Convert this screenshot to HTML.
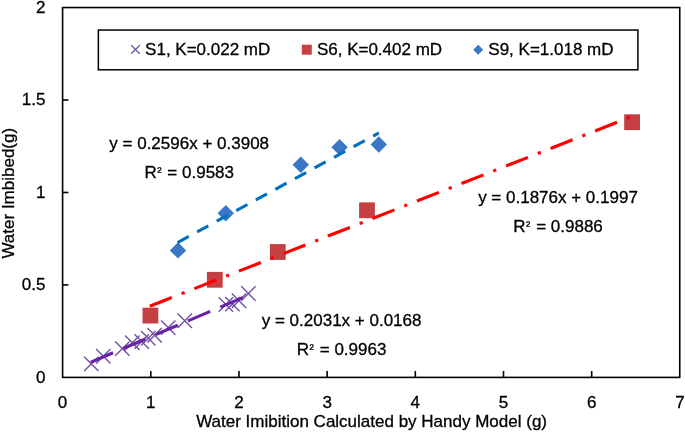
<!DOCTYPE html>
<html><head><meta charset="utf-8"><style>
html,body{margin:0;padding:0;background:#fff;width:685px;height:432px;overflow:hidden}
svg{display:block;filter:blur(0.35px)}
text{font-family:"Liberation Sans", sans-serif;font-size:17px;fill:#000}
.t{filter:grayscale(1)}
.t text{stroke:#000;stroke-width:0.3px}
</style></head><body>
<svg width="685" height="432" viewBox="0 0 685 432">
<rect x="62.6" y="7.55" width="617.15" height="369.85" fill="none" stroke="#000" stroke-width="1.6"/>
<line x1="150.78" y1="371" x2="150.78" y2="377.4" stroke="#000" stroke-width="1.6"/>
<line x1="238.96" y1="371" x2="238.96" y2="377.4" stroke="#000" stroke-width="1.6"/>
<line x1="327.14" y1="371" x2="327.14" y2="377.4" stroke="#000" stroke-width="1.6"/>
<line x1="415.32" y1="371" x2="415.32" y2="377.4" stroke="#000" stroke-width="1.6"/>
<line x1="503.50" y1="371" x2="503.50" y2="377.4" stroke="#000" stroke-width="1.6"/>
<line x1="591.68" y1="371" x2="591.68" y2="377.4" stroke="#000" stroke-width="1.6"/>
<line x1="62.6" y1="284.93" x2="68.4" y2="284.93" stroke="#000" stroke-width="1.6"/>
<line x1="62.6" y1="192.47" x2="68.4" y2="192.47" stroke="#000" stroke-width="1.6"/>
<line x1="62.6" y1="100.00" x2="68.4" y2="100.00" stroke="#000" stroke-width="1.6"/>
<rect x="98.35" y="30.05" width="539.55" height="39.75" fill="#fff" stroke="#000" stroke-width="1.5"/>
<path d="M131.20 45.20L139.80 53.80M131.20 53.80L139.80 45.20" stroke="#6E52A6" stroke-width="1.3" fill="none"/>
<rect x="301.80" y="44.70" width="10.00" height="10.00" fill="#C64043"/>
<path d="M478.20 44.70L483.20 49.70L478.20 54.70L473.20 49.70Z" fill="#3A77C6"/>
<path d="M84.10 356.70L98.50 371.10M84.10 371.10L98.50 356.70" stroke="#6E52A6" stroke-width="1.4" fill="none"/>
<path d="M96.10 349.00L110.50 363.40M96.10 363.40L110.50 349.00" stroke="#6E52A6" stroke-width="1.4" fill="none"/>
<path d="M115.20 341.40L129.60 355.80M115.20 355.80L129.60 341.40" stroke="#6E52A6" stroke-width="1.4" fill="none"/>
<path d="M125.10 335.50L139.50 349.90M125.10 349.90L139.50 335.50" stroke="#6E52A6" stroke-width="1.4" fill="none"/>
<path d="M134.50 334.30L148.90 348.70M134.50 348.70L148.90 334.30" stroke="#6E52A6" stroke-width="1.4" fill="none"/>
<path d="M141.10 331.10L155.50 345.50M141.10 345.50L155.50 331.10" stroke="#6E52A6" stroke-width="1.4" fill="none"/>
<path d="M147.40 328.00L161.80 342.40M147.40 342.40L161.80 328.00" stroke="#6E52A6" stroke-width="1.4" fill="none"/>
<path d="M161.00 320.40L175.40 334.80M161.00 334.80L175.40 320.40" stroke="#6E52A6" stroke-width="1.4" fill="none"/>
<path d="M177.60 313.50L192.00 327.90M177.60 327.90L192.00 313.50" stroke="#6E52A6" stroke-width="1.4" fill="none"/>
<path d="M218.70 297.30L233.10 311.70M218.70 311.70L233.10 297.30" stroke="#6E52A6" stroke-width="1.4" fill="none"/>
<path d="M225.20 296.90L239.60 311.30M225.20 311.30L239.60 296.90" stroke="#6E52A6" stroke-width="1.4" fill="none"/>
<path d="M231.80 293.60L246.20 308.00M231.80 308.00L246.20 293.60" stroke="#6E52A6" stroke-width="1.4" fill="none"/>
<path d="M241.20 286.30L255.60 300.70M241.20 300.70L255.60 286.30" stroke="#6E52A6" stroke-width="1.4" fill="none"/>
<rect x="142.50" y="307.70" width="15.80" height="15.80" fill="#C64043"/>
<rect x="206.90" y="271.90" width="15.80" height="15.80" fill="#C64043"/>
<rect x="269.90" y="244.10" width="15.80" height="15.80" fill="#C64043"/>
<rect x="359.10" y="202.40" width="15.80" height="15.80" fill="#C64043"/>
<rect x="624.20" y="114.30" width="15.80" height="15.80" fill="#C64043"/>
<path d="M178.00 242.20L186.20 250.40L178.00 258.60L169.80 250.40Z" fill="#3A77C6"/>
<path d="M225.80 205.10L234.00 213.30L225.80 221.50L217.60 213.30Z" fill="#3A77C6"/>
<path d="M300.80 156.60L309.00 164.80L300.80 173.00L292.60 164.80Z" fill="#3A77C6"/>
<path d="M339.60 139.00L347.80 147.20L339.60 155.40L331.40 147.20Z" fill="#3A77C6"/>
<path d="M378.80 136.30L387.00 144.50L378.80 152.70L370.60 144.50Z" fill="#3A77C6"/>
<line x1="90.80" y1="362.28" x2="248.40" y2="295.15" stroke="#6A22A8" stroke-width="3.1" stroke-dasharray="24.2 11"/>
<line x1="149.80" y1="306.16" x2="632.10" y2="116.41" stroke="#FF0000" stroke-width="3.15" stroke-dasharray="23.65 10.5 3.2 10.5"/>
<line x1="177.60" y1="242.52" x2="378.80" y2="132.98" stroke="#0070C0" stroke-width="3.1" stroke-dasharray="12.7 9.57"/>
<g class="t"><text x="62.60" y="408" text-anchor="middle">0</text>
<text x="150.78" y="408" text-anchor="middle">1</text>
<text x="238.96" y="408" text-anchor="middle">2</text>
<text x="327.14" y="408" text-anchor="middle">3</text>
<text x="415.32" y="408" text-anchor="middle">4</text>
<text x="503.50" y="408" text-anchor="middle">5</text>
<text x="591.68" y="408" text-anchor="middle">6</text>
<text x="679.86" y="408" text-anchor="middle">7</text>
<text x="45.5" y="382.60" text-anchor="end">0</text>
<text x="45.5" y="290.13" text-anchor="end">0.5</text>
<text x="45.5" y="197.67" text-anchor="end">1</text>
<text x="45.5" y="105.20" text-anchor="end">1.5</text>
<text x="45.5" y="12.74" text-anchor="end">2</text>
<text x="371.6" y="427" text-anchor="middle">Water Imibition Calculated by Handy Model (g)</text>
<text transform="translate(13.6,193.2) rotate(-90)" text-anchor="middle">Water Imbibed(g)</text>
<text x="145.1" y="55.3">S1, K=0.022 mD</text>
<text x="316.9" y="55.3">S6, K=0.402 mD</text>
<text x="488.3" y="55.3">S9, K=1.018 mD</text>
<text x="189.2" y="148.8" text-anchor="middle">y = 0.2596x + 0.3908</text>
<text x="189.2" y="178.20000000000002" text-anchor="middle">R<tspan style="font-size:13px" dy="-2.6" dx="0.5">²</tspan><tspan dy="2.6" dx="1.1"> = 0.9583</tspan></text>
<text x="558" y="202.8" text-anchor="middle">y = 0.1876x + 0.1997</text>
<text x="558" y="232.20000000000002" text-anchor="middle">R<tspan style="font-size:13px" dy="-2.6" dx="0.5">²</tspan><tspan dy="2.6" dx="1.1"> = 0.9886</tspan></text>
<text x="341.6" y="325.8" text-anchor="middle">y = 0.2031x + 0.0168</text>
<text x="341.6" y="355.2" text-anchor="middle">R<tspan style="font-size:13px" dy="-2.6" dx="0.5">²</tspan><tspan dy="2.6" dx="1.1"> = 0.9963</tspan></text></g>
</svg>
</body></html>
